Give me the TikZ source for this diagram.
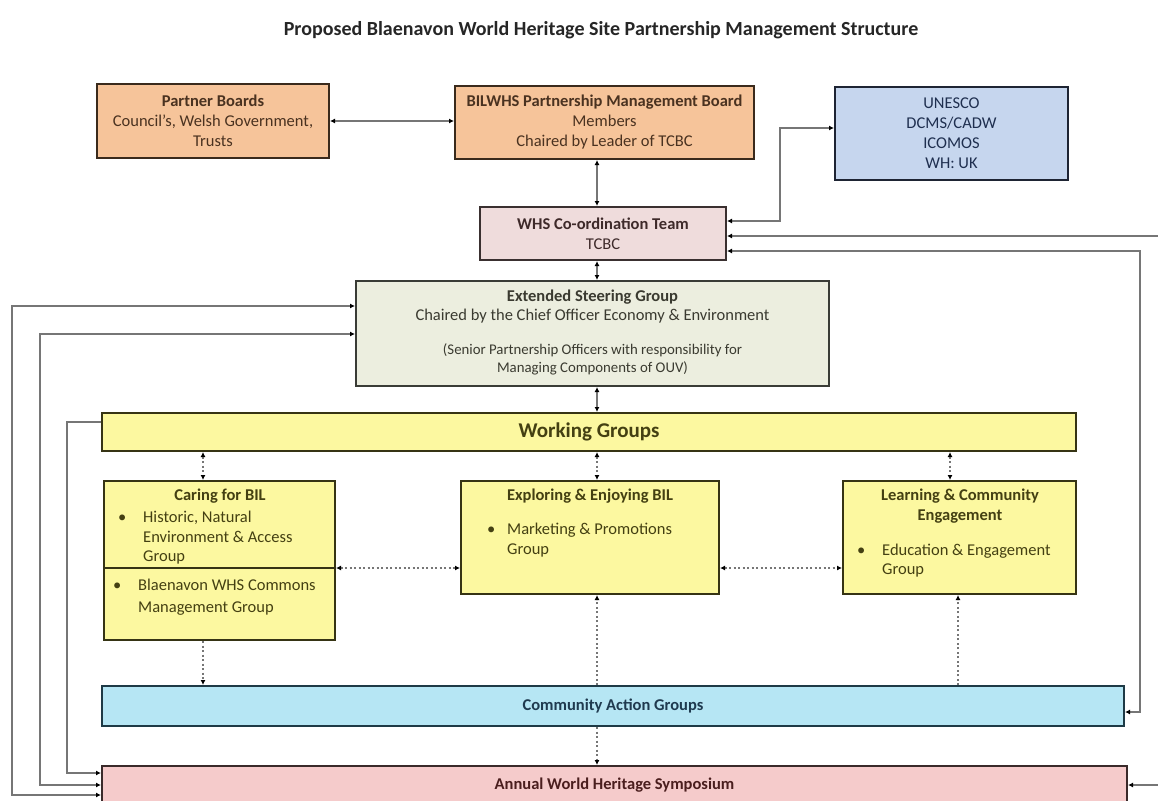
\documentclass[tikz,border=0pt]{standalone}
\usepackage{fontspec}
\setmainfont{Carlito}
\usetikzlibrary{arrows.meta,calc}
\definecolor{orfill}{HTML}{F6C49A}
\definecolor{orline}{HTML}{3A2A1C}
\definecolor{ortext}{HTML}{4A3220}
\definecolor{blfill}{HTML}{C6D6EE}
\definecolor{blline}{HTML}{1E2433}
\definecolor{bltext}{HTML}{1F2F4F}
\definecolor{pkfill}{HTML}{EFDCDC}
\definecolor{pkline}{HTML}{3A3030}
\definecolor{pktext}{HTML}{3E2A2A}
\definecolor{exfill}{HTML}{ECEEDF}
\definecolor{exline}{HTML}{3A3C36}
\definecolor{extext}{HTML}{3A3A30}
\definecolor{ylfill}{HTML}{FCF8A0}
\definecolor{ylline}{HTML}{363414}
\definecolor{yltext}{HTML}{444012}
\definecolor{cyfill}{HTML}{B6E6F4}
\definecolor{cyline}{HTML}{1E3A46}
\definecolor{cytext}{HTML}{1F3A4F}
\definecolor{awfill}{HTML}{F5CBCB}
\definecolor{awline}{HTML}{3A2A2A}
\definecolor{awtext}{HTML}{4A1E1E}
\definecolor{linegray}{HTML}{767676}
\begin{document}
\begin{tikzpicture}[x=1pt,y=-1pt,
  box/.style={rectangle, line width=2pt, inner sep=0pt, align=center,
    font=\fontsize{16.5}{20}\selectfont},
  txt/.style={inner sep=0pt, anchor=mid west, font=\fontsize{16.5}{20}\selectfont, text=yltext},
  conn/.style={draw=linegray, line width=1.2pt},
  dotl/.style={draw=linegray, line width=1.2pt, dash pattern=on 2pt off 2.5pt},
  tip/.tip={Latex[length=5pt,width=5pt,color=black]},
  both/.style={tip-tip},
  fwd/.style={-tip}
]
\useasboundingbox (0,0) rectangle (1158,800);
\fill[white] (0,0) rectangle (1158,800);

\node[font=\bfseries\fontsize{20}{24}\selectfont, text=black!85] (title) at (601,30)
  {Proposed Blaenavon World Heritage Site Partnership Management Structure};

% top row
\node[box, fill=orfill, draw=orline, text=ortext, minimum width=232pt, minimum height=74pt] (pb) at (213,121)
  {\textbf{Partner Boards}\\Council's, Welsh Government,\\Trusts};
\node[box, fill=orfill, draw=orline, text=ortext, minimum width=299pt, minimum height=73pt] (bil) at (604.5,122.5)
  {\textbf{BILWHS Partnership Management Board}\\Members\\Chaired by Leader of TCBC};
\node[box, fill=blfill, draw=blline, text=bltext, minimum width=233pt, minimum height=93pt] (un) at (951.5,133.5)
  {UNESCO\\DCMS/CADW\\ICOMOS\\WH: UK};

\node[box, fill=pkfill, draw=pkline, text=pktext, minimum width=246pt, minimum height=53pt] (whs) at (603,233.5)
  {\textbf{WHS Co-ordination Team}\\TCBC};

\node[box, fill=exfill, draw=exline, minimum width=473pt, minimum height=105pt] (ext) at (592.5,333.5) {};
\node[inner sep=0pt, align=center, text=extext, font=\fontsize{16.5}{19}\selectfont] (extA) at (592.5,306.5)
  {\textbf{Extended Steering Group}\\Chaired by the Chief Officer Economy \& Environment};
\node[inner sep=0pt, align=center, text=extext, font=\fontsize{14.8}{18}\selectfont] (extB) at (592.5,359)
  {(Senior Partnership Officers with responsibility for\\Managing Components of OUV)};

\node[box, fill=ylfill, draw=ylline, text=yltext, minimum width=974pt, minimum height=38pt,
  font=\bfseries\fontsize{21}{24}\selectfont] (wg) at (589,432) {Working Groups};

% working group boxes
\node[box, fill=ylfill, draw=ylline, minimum width=231pt, minimum height=159pt] (car) at (219.5,560.5) {};
\draw[line width=2pt, draw=ylline] (car.west |- 0,568) -- (car.east |- 0,568);
\node[txt, anchor=mid] (carT) at (220,498) {\textbf{Caring for BIL}};
\node[txt] (carB1) at (118,520) {•};
\node[txt] (carL1) at (143,520) {Historic, Natural};
\node[txt] (carL2) at (143,540) {Environment \& Access};
\node[txt] (carL3) at (143,559) {Group};
\node[txt] (carB2) at (113,588) {•};
\node[txt] (carL4) at (138,588) {Blaenavon WHS Commons};
\node[txt] (carL5) at (138,610) {Management Group};

\node[box, fill=ylfill, draw=ylline, minimum width=258pt, minimum height=113pt] (exp) at (590,537.5) {};
\node[txt, anchor=mid] (expT) at (590,498) {\textbf{Exploring \& Enjoying BIL}};
\node[txt] (expB) at (487,532) {•};
\node[txt] (expL1) at (507,532) {Marketing \& Promotions};
\node[txt] (expL2) at (507,552) {Group};

\node[box, fill=ylfill, draw=ylline, minimum width=233pt, minimum height=113pt] (lea) at (959.5,537.5) {};
\node[txt, anchor=mid] (leaT1) at (960,498) {\textbf{Learning \& Community}};
\node[txt, anchor=mid] (leaT2) at (960,518) {\textbf{Engagement}};
\node[txt] (leaB) at (857,553) {•};
\node[txt] (leaL1) at (882,553) {Education \& Engagement};
\node[txt] (leaL2) at (882,572) {Group};

\node[box, fill=cyfill, draw=cyline, text=cytext, minimum width=1022pt, minimum height=40pt,
  font=\bfseries\fontsize{16.5}{20}\selectfont] (cag) at (613,706) {Community Action Groups};
\node[box, fill=awfill, draw=awline, text=awtext, minimum width=1025pt, minimum height=38pt,
  font=\bfseries\fontsize{16.5}{20}\selectfont] (aws) at (614.5,785) {Annual World Heritage Symposium};

% helper coordinates
\coordinate (mx) at (597,0);
\coordinate (cx) at (203,0);
\coordinate (lx) at (950,0);
\coordinate (lx2) at (958,0);
\coordinate (rin) at (1158,236);
\coordinate (rin2) at (1158,785);

% solid connectors
\draw[conn, both] (pb.east) -- (bil.west |- pb.east);
\draw[conn, both] (bil.south -| mx) -- (whs.north -| mx);
\draw[conn, both] (whs.south -| mx) -- (ext.north -| mx);
\draw[conn, both] (ext.south -| mx) -- (wg.north -| mx);
\draw[conn, both] (whs.east |- 0,221) -- (780,221) -- (780,128) -- (un.west |- 0,128);
\draw[conn, fwd] (rin) -- (whs.east |- rin);
\draw[conn, both] (whs.east |- 0,251) -- (1140,251) -- (1140,712) -- (cag.east |- 0,712);
\draw[conn, fwd] (rin2) -- (aws.east |- rin2);
\draw[conn, both] (aws.west |- 0,795) -- (12,795) -- (12,306) -- (ext.west |- 0,306);
\draw[conn, both] (aws.west |- 0,785) -- (40,785) -- (40,334) -- (ext.west |- 0,334);
\draw[conn, fwd] (wg.west |- 0,422) -- (67,422) -- (67,773) -- (aws.west |- 0,773);

% dotted connectors
\draw[dotl, both] (wg.south -| cx) -- (car.north -| cx);
\draw[dotl, both] (wg.south -| mx) -- (exp.north -| mx);
\draw[dotl, both] (wg.south -| lx) -- (lea.north -| lx);
\draw[dotl, both] (car.east |- 0,568) -- (exp.west |- 0,568);
\draw[dotl, both] (exp.east |- 0,568) -- (lea.west |- 0,568);
\draw[dotl, fwd] (car.south -| cx) -- (cag.north -| cx);
\draw[dotl, fwd] (cag.north -| mx) -- (exp.south -| mx);
\draw[dotl, fwd] (cag.north -| lx2) -- (lea.south -| lx2);
\draw[dotl, fwd] (cag.south -| mx) -- (aws.north -| mx);
\end{tikzpicture}
\end{document}
